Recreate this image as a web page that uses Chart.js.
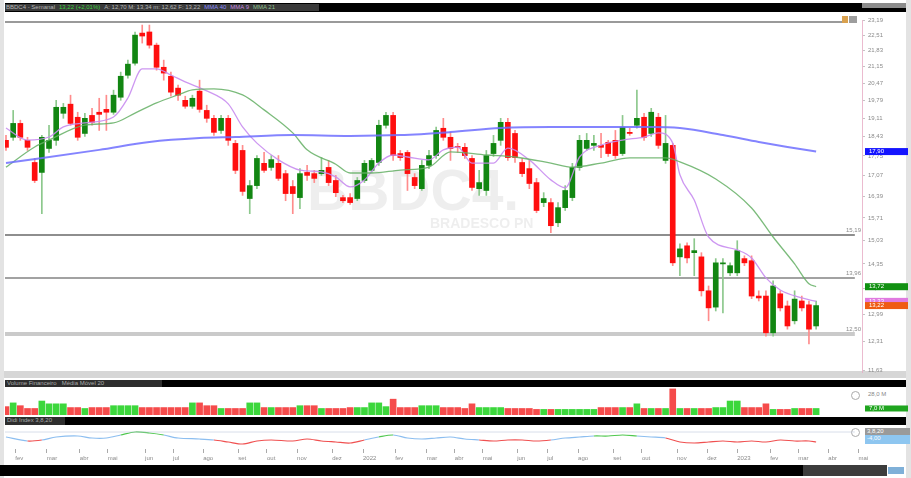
<!DOCTYPE html>
<html>
<head>
<meta charset="utf-8">
<script src="https://cdn.jsdelivr.net/npm/chart.js@4.4.0/dist/chart.umd.min.js"></script>
<style>
  body { margin: 0; width: 911px; height: 478px; position: relative; overflow: hidden; background: #fff;
         font-family: "Liberation Sans", Arial, sans-serif; }
  canvas { position: absolute; left: 0; top: 0; }
  .blk { position: absolute; white-space: nowrap; font-size: 6px; line-height: 7px; }
  .hdr span { margin-right: 4px; }
</style>
</head>
<body>
<!-- frame and panel headers -->
<div class="blk" style="left:0;top:0;width:4px;height:478px;background:#e3e3e3"></div>
<div class="blk" style="left:906px;top:0;width:5px;height:478px;background:#e3e3e3"></div>
<div class="blk hdr" style="left:5px;top:3px;width:901px;height:9px;background:#000;">
  <div class="blk" style="left:0;top:1px;width:313px;height:7px;background:#3a3a3a;color:#b5b5b5;padding-left:1px">
    <span>BBDC4 - Semanal</span><span style="color:#3bd23b">13,22 (+2,01%)</span><span>A: 12,70 M: 13,34 m: 12,62 F: 13,22</span><span style="color:#8a8aff">MMA 40</span><span style="color:#c58ae0">MMA 9</span><span style="color:#8fc08f">MMA 21</span>
  </div>
  <div class="blk" style="left:857px;top:0;width:44px;height:5px;background:#8c8c8c"></div>
</div>
<div class="blk" style="left:5px;top:21px;width:837px;height:2px;background:#9a9a9a"></div>
<div class="blk" style="left:842px;top:16px;width:6px;height:7px;background:#d9a14f"></div>
<div class="blk" style="left:849px;top:16px;width:8px;height:7px;background:#9d9d9d"></div>
<div class="blk" style="left:4px;top:371px;width:902px;height:7px;background:#d6d6d6"></div>
<div class="blk" style="left:5px;top:380px;width:901px;height:7px;background:#000;color:#aaa">
  <div class="blk" style="left:0;top:0;width:155px;height:7px;background:#2e2e2e;padding-left:2px">Volume Financeiro &nbsp; Média Móvel 20</div>
</div>
<div class="blk" style="left:5px;top:417px;width:901px;height:8px;background:#000;color:#aaa">
  <div class="blk" style="left:0;top:0;width:58px;height:8px;background:#2e2e2e;padding-left:2px">Didi Index 3,8,20</div>
</div>
<div class="blk" style="left:851px;top:391px;width:7px;height:7px;border:1px solid #aaa;border-radius:50%"></div>
<div class="blk" style="left:868px;top:391px;color:#888">28,0 M</div>
<div class="blk" style="left:851px;top:428px;width:7px;height:7px;border:1px solid #aaa;border-radius:50%"></div>
<div class="blk" style="left:865px;top:428px;width:43px;height:7px;background:#9a9a9a;color:#fff;padding-left:2px">3,8,20</div>
<div class="blk" style="left:865px;top:435px;width:43px;height:9px;background:#8ec6f0;color:#fff;padding-left:2px">-4,00</div>
<div class="blk" style="left:0;top:465px;width:803px;height:11px;background:#000"></div>
<div class="blk" style="left:803px;top:465px;width:84px;height:11px;background:#3c3c3c"></div>
<div class="blk" style="left:888px;top:467px;width:16px;height:7px;background:#7fb0d8"></div>

<canvas id="price" width="911" height="478"></canvas>
<canvas id="volume" width="911" height="478"></canvas>
<canvas id="osc" width="911" height="478"></canvas>

<script>
// weekly candles, BBDC4
const opens = [18.30,18.41,18.92,18.30,17.52,17.18,18.01,18.30,19.30,19.65,
  19.15,18.55,19.22,19.34,19.45,19.34,19.92,20.80,21.30,22.60,
  22.65,22.07,21.13,20.76,20.28,19.80,19.57,20.16,19.41,19.11,
  18.66,19.11,18.19,17.94,16.32,16.74,17.49,17.35,17.49,17.14,
  16.71,16.35,17.18,17.14,17.14,17.35,16.91,16.35,16.35,16.32,
  16.91,17.25,17.52,18.85,19.22,17.83,17.87,17.01,16.64,17.42,
  17.76,18.74,18.41,18.08,18.05,17.66,16.64,16.58,17.83,18.30,
  18.96,18.55,17.52,17.31,16.84,16.19,16.19,15.56,16.03,16.35,
  17.35,18.01,18.12,18.12,18.23,18.30,17.83,18.59,18.85,19.15,
  18.55,19.15,17.59,18.12,14.55,14.87,14.67,14.55,13.61,13.18,
  14.35,14.10,14.10,14.50,14.44,13.47,13.47,12.53,13.53,13.21,
  12.83,13.34,13.24,12.70];
const highs = [18.48,19.41,19.04,18.41,17.66,18.48,18.85,19.80,19.68,20.00,
  19.34,19.30,19.49,19.88,20.00,20.20,20.93,21.43,22.65,22.96,
  22.96,22.16,21.43,20.93,20.40,19.96,20.00,20.60,19.61,19.22,
  19.22,19.22,18.30,18.12,16.91,17.76,17.87,17.76,17.76,17.25,
  16.91,17.31,17.42,17.25,17.69,17.59,17.08,16.42,16.48,17.01,
  17.59,17.66,19.04,19.34,19.34,17.94,17.94,17.14,17.59,17.94,
  18.78,19.11,18.59,18.19,18.19,17.76,17.25,17.94,18.48,19.11,
  19.11,18.66,17.66,17.59,16.98,16.51,16.32,16.19,16.74,17.49,
  18.48,18.55,18.48,18.55,18.30,18.66,19.22,18.74,20.20,19.30,
  19.49,19.30,19.22,18.19,14.93,14.96,15.08,14.67,13.74,14.50,
  14.50,14.38,15.02,14.58,14.58,13.61,13.61,13.88,13.61,13.34,
  13.61,13.47,13.34,13.34];
const lows = [17.94,18.30,18.30,17.94,16.84,15.84,17.87,18.12,19.11,18.85,
  18.30,18.44,18.85,18.66,18.66,19.26,19.80,20.68,21.22,22.16,
  21.94,21.01,20.60,19.96,19.80,19.49,19.49,19.34,18.96,18.48,
  18.55,18.12,17.14,16.42,15.84,16.64,17.18,17.25,16.91,16.25,
  15.84,16.00,16.91,16.84,17.08,16.74,16.38,16.19,16.13,16.25,
  16.84,17.18,17.42,18.74,17.59,17.59,16.58,16.64,16.58,17.31,
  17.66,18.30,17.59,17.87,17.66,16.58,16.42,16.42,17.73,18.12,
  17.59,17.52,17.04,16.64,15.87,16.06,15.26,15.44,15.94,16.25,
  17.25,17.94,17.94,17.69,17.73,17.66,17.76,18.48,18.74,18.30,
  18.44,18.01,17.49,14.30,14.02,14.38,14.02,13.47,12.83,13.08,
  13.03,14.02,14.02,14.30,13.40,13.34,12.45,12.45,13.08,12.62,
  12.75,13.08,12.26,12.62];
const closes = [18.05,18.92,18.41,18.05,16.91,18.41,18.30,19.53,19.53,18.92,
  18.41,19.11,18.96,19.26,19.34,20.00,20.76,21.26,22.51,22.47,
  22.07,21.13,20.89,20.12,20.00,19.57,19.88,19.45,19.11,18.59,
  19.11,18.30,17.25,16.55,16.74,17.66,17.25,17.62,16.98,16.48,
  16.48,17.14,17.08,16.98,17.25,16.84,16.51,16.25,16.19,16.91,
  17.49,17.59,18.85,19.22,17.76,17.69,17.14,16.74,17.42,17.76,
  18.66,18.41,18.01,18.05,17.76,16.68,16.84,17.76,18.19,18.96,
  17.69,17.69,17.14,16.81,15.94,16.32,15.47,16.03,16.58,17.35,
  18.30,18.30,18.19,18.05,17.83,17.76,18.78,18.55,19.11,18.41,
  19.34,18.12,18.19,14.38,14.78,14.52,14.73,13.61,13.16,14.38,
  14.38,14.30,14.73,14.38,13.47,13.42,12.53,13.74,13.16,12.70,
  13.39,13.16,12.62,13.22];
const volumes = [9,13,10,7,7,15,12,12,12,8, 8,7,8,8,8,10,10,10,10,8,
  8,8,8,8,8,8,13,13,10,10, 7,7,7,7,13,13,8,8,8,8,
  8,10,10,10,7,7,7,7,8,8, 8,13,13,9,17,8,8,8,10,10,
  10,8,8,8,7,12,8,8,8,8, 7,7,7,7,6,6,6,6,6,6,
  6,6,6,8,8,8,8,8,12,7, 7,7,7,28,7,7,7,7,7,8,
  8,15,15,8,8,8,12,6,6,6, 7,7,7,7];

// moving averages at a few candles
const fastIdx = [0,3,6,8,11,15,17,19,21,23,25,28,31,33,35,38,41,44,46,48,50,52,54,56,59,61,63,65,68,70,73,76,78,80,83,86,89,91,93,94,96,98,102,104,106,108,111,113];
const fastVal = [18.75,18.31,18.42,18.79,18.94,19.16,19.89,21.06,21.06,20.81,20.53,20.17,19.66,18.79,18.20,17.61,17.26,17.20,17.03,16.70,16.93,17.50,17.78,17.71,17.61,17.96,18.06,17.50,17.50,18.02,17.61,16.93,16.67,17.71,18.13,18.31,18.42,18.57,18.20,17.10,16.27,15.13,14.75,14.52,13.96,13.63,13.42,13.33];
const midIdx = [0,4,6,11,15,18,21,24,26,29,33,36,40,42,46,48,51,55,59,62,67,71,76,79,83,87,92,94,99,104,107,110,112,113];
const midVal = [17.36,18.06,18.31,18.86,18.94,19.31,19.70,20.01,20.21,20.25,20.01,19.43,18.57,17.96,17.46,17.16,17.16,17.26,17.36,17.89,17.78,17.71,17.50,17.36,17.50,17.68,17.68,17.54,16.96,16.02,15.13,14.35,13.80,13.72];
const slowIdx = [0,13,20,27,32,40,48,55,62,69,76,83,90,94,100,105,109,113];
const slowVal = [17.50,17.96,18.24,18.38,18.42,18.49,18.46,18.49,18.60,18.75,18.79,18.79,18.79,18.75,18.49,18.24,18.06,17.90];

// oscillator (Didi)
const oscIdx = [0,3,5,7,10,12,14,16,18,20,22,24,27,29,31,33,35,37,40,42,44,46,48,50,52,54,56,58,60,62,64,66,68,70,72,74,76,78,80,82,84,86,88,90,92,94,96,98,100,102,104,106,108,110,112,113];
const oscVal = [1,-3,-2,1,2,0,0,3,6,5,3,0,-1,-2,-4,-6,-3,-2,-3,-1,-3,-4,-5,-2,1,3,0,-1,0,1,-1,-2,-3,-2,-2,-3,-2,0,1,2,2,3,2,1,0,-4,-5,-4,-3,-4,-3,-4,-2,-3,-3,-4];

// support / resistance levels
const levelValues = [15.19, 13.96, 12.50];
const levelColors = ['#8e8e8e', '#a2a2a2', '#cacaca'];
const levelWidths = [2, 2, 4];

// axis labels
const priceTicks = [23.19,22.51,21.83,21.15,20.47,19.79,19.11,18.43,17.75,17.07,16.39,15.71,15.03,14.35,13.67,12.99,12.31,11.63];
const monthPos = [1.3,5.7,10.3,14.2,19.4,23.3,27.5,32.4,36.4,40.6,45.5,49.8,54.3,58.7,62.6,66.5,71.3,75.5,79.8,84.7,88.7,93.6,97.8,102.0,106.6,110.5,114.7,118.9];
const monthLabels = ['fev','mar','abr','mai','jun','jul','ago','set','out','nov','dez','2022','fev','mar','abr','mai','jun','jul','ago','set','out','nov','dez','2023','fev','mar','abr','mai'];

const ticker = 'BBDC4.';
const companyName = 'BRADESCO PN';

Chart.defaults.font.family = '"Liberation Sans", Arial, sans-serif';
Chart.defaults.animation = false;

const xMin = -0.14, xMax = 119.4, levelEnd = 118.4;
const fmt = v => v.toFixed(2).replace('.', ',');
const pts = (ix, vals) => ix.map((x, k) => ({x: x, y: vals[k]}));
const isUp = closes.map((c, i) => c >= opens[i]);

const bodies = closes.map((c, i) => ({x: i, y: [opens[i], c]}));
const wicks = closes.map((c, i) => ({x: i, y: [lows[i], highs[i]]}));
const bodyColors = isUp.map(u => u ? 'rgb(18,134,18)' : 'rgb(255,14,14)');
const wickColors = isUp.map(u => u ? 'rgb(140,200,140)' : 'rgb(255,140,140)');

var levelSets = levelValues.map((v, k) => ({
  type: 'line', label: 'nivel ' + fmt(v),
  data: [{x: xMin, y: v}, {x: levelEnd, y: v}],
  borderColor: levelColors[k], borderWidth: levelWidths[k], pointRadius: 0, order: 5
}));

const watermark = {
  id: 'watermark',
  beforeDatasetsDraw(chart) {
    const c = chart.ctx;
    c.save();
    c.fillStyle = 'rgba(215,215,215,0.42)';
    c.font = 'bold 57px "Liberation Sans", Arial, sans-serif';
    c.fillText(ticker, 307, 210);
    c.font = 'bold 14px "Liberation Sans", Arial, sans-serif';
    c.fillText(companyName, 430, 228);
    c.restore();
  }
};

const sideLabels = {
  id: 'sideLabels',
  afterDraw(chart) {
    const c = chart.ctx, ys = chart.scales.y, right = chart.chartArea.right;
    c.save();
    c.font = '6px "Liberation Sans", Arial, sans-serif';
    c.fillStyle = '#8a8a8a';
    c.textAlign = 'right';
    c.textBaseline = 'bottom';
    levelValues.forEach(v => c.fillText(fmt(v), right - 1, ys.getPixelForValue(v) - 2));
    const boxes = [
      [slowVal[slowVal.length - 1], '#1414ff'],
      [midVal[midVal.length - 1], '#119011'],
      [fastVal[fastVal.length - 1], '#e07ae0'],
      [closes[closes.length - 1], '#ef5b12']
    ];
    c.textAlign = 'left';
    c.textBaseline = 'middle';
    boxes.forEach(([v, col]) => {
      const py = ys.getPixelForValue(v);
      c.fillStyle = col;
      c.fillRect(right + 3, py - 3.5, 43, 7);
      c.fillStyle = '#fff';
      c.fillText(fmt(v), right + 7, py);
    });
    c.restore();
  }
};

new Chart(document.getElementById('price'), {
  type: 'bar',
  data: {
    datasets: [
      {type: 'line', label: 'MMA 40', data: pts(slowIdx, slowVal), borderColor: 'rgba(110,110,255,0.85)', borderWidth: 2, pointRadius: 0, cubicInterpolationMode: 'monotone', order: 0},
      {type: 'line', label: 'MMA 21', data: pts(midIdx, midVal), borderColor: 'rgba(100,175,100,0.85)', borderWidth: 1.3, pointRadius: 0, cubicInterpolationMode: 'monotone', order: 0},
      {type: 'line', label: 'MMA 9', data: pts(fastIdx, fastVal), borderColor: 'rgba(200,140,240,0.9)', borderWidth: 1.3, pointRadius: 0, cubicInterpolationMode: 'monotone', order: 0},
      ...levelSets,
      {label: 'pavio', data: wicks, backgroundColor: wickColors, barThickness: 1, grouped: false, order: 2},
      {label: 'corpo', data: bodies, backgroundColor: bodyColors, barThickness: 5, grouped: false, order: 1}
    ]
  },
  options: {
    responsive: false,
    layout: {padding: {left: 5, top: 20, right: 0, bottom: 106}},
    plugins: {legend: {display: false}, tooltip: {enabled: false}},
    scales: {
      x: {type: 'linear', min: xMin, max: xMax, offset: false, display: false},
      y: {
        type: 'logarithmic', position: 'right', min: 11.60, max: 23.19,
        afterBuildTicks: s => { s.ticks = priceTicks.map(v => ({value: v})); },
        afterFit: s => { s.width = 49; },
        ticks: {autoSkip: false, color: '#8a8a8a', font: {size: 6}, padding: 3, callback: v => fmt(Number(v))},
        grid: {drawOnChartArea: false, tickLength: 3, color: '#c4c4c4'},
        border: {color: 'rgba(230,170,195,0.8)', dash: [2, 2]}
      }
    }
  },
  plugins: [watermark, sideLabels]
});

const volBox = {
  id: 'volBox',
  afterDraw(chart) {
    const c = chart.ctx, ys = chart.scales.y, right = chart.chartArea.right;
    const v = volumes[volumes.length - 1], py = ys.getPixelForValue(v);
    c.save();
    c.fillStyle = '#1fa51f';
    c.fillRect(right + 3, py - 3, 43, 6);
    c.fillStyle = '#fff';
    c.font = '6px "Liberation Sans", Arial, sans-serif';
    c.textBaseline = 'middle';
    c.fillText(v.toFixed(1).replace('.', ',') + ' M', right + 7, py);
    c.restore();
  }
};

new Chart(document.getElementById('volume'), {
  type: 'bar',
  data: {
    datasets: [{
      label: 'Volume', data: volumes.map((v, i) => ({x: i, y: v})),
      backgroundColor: isUp.map(u => u ? 'rgb(60,215,60)' : 'rgb(245,75,75)'),
      barThickness: 6
    }]
  },
  options: {
    responsive: false,
    layout: {padding: {left: 5, top: 388, right: 49, bottom: 63}},
    plugins: {legend: {display: false}, tooltip: {enabled: false}},
    scales: {
      x: {type: 'linear', min: xMin, max: xMax, offset: false, display: false},
      y: {min: 0, max: 29, display: false}
    }
  },
  plugins: [volBox]
});

const oscColor = v => v > 1.5 ? 'rgb(80,200,80)' : (v < -1.5 ? 'rgb(240,80,80)' : 'rgb(140,190,240)');

new Chart(document.getElementById('osc'), {
  type: 'line',
  data: {
    datasets: [
      {label: 'ref', data: [{x: xMin, y: 6}, {x: levelEnd, y: 6}], borderColor: 'rgba(190,200,220,0.6)', borderWidth: 1, pointRadius: 0},
      {label: 'Didi', data: pts(oscIdx, oscVal), borderWidth: 1.2, pointRadius: 0, tension: 0.3,
       borderColor: 'rgb(140,190,240)',
       segment: {borderColor: ctx => oscColor((ctx.p0.parsed.y + ctx.p1.parsed.y) / 2)}}
    ]
  },
  options: {
    responsive: false,
    layout: {padding: {left: 5, top: 427, right: 49, bottom: 14}},
    plugins: {legend: {display: false}, tooltip: {enabled: false}},
    scales: {
      x: {
        type: 'linear', min: xMin, max: xMax, position: 'bottom',
        afterBuildTicks: s => { s.ticks = monthPos.map(v => ({value: v})); },
        afterFit: s => { s.height = 15; },
        ticks: {autoSkip: false, maxRotation: 0, align: 'start', color: '#8a8a8a', font: {size: 6}, padding: 2,
                callback: (v, i) => monthLabels[i]},
        grid: {drawOnChartArea: false, tickLength: 4, color: '#aaa'},
        border: {display: false}
      },
      y: {min: -11, max: 11, display: false}
    }
  }
});
</script>
</body>
</html>
